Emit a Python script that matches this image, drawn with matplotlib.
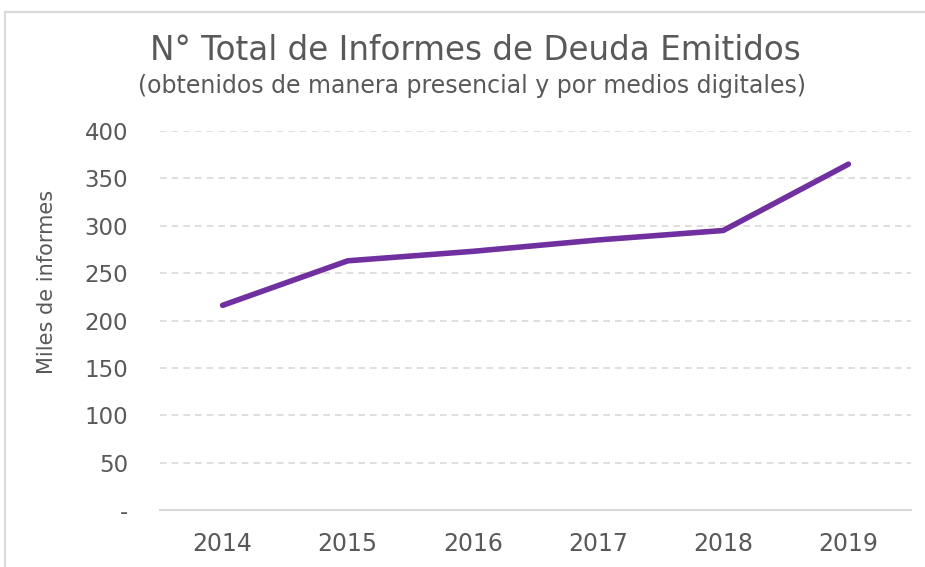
import numpy as np
import matplotlib.pyplot as plt
from matplotlib.lines import Line2D
from matplotlib.ticker import FuncFormatter

# datos (miles de informes)
anios = ["2014", "2015", "2016", "2017", "2018", "2019"]
informes = [216, 263, 273, 285, 295, 365]
yticks = [0, 50, 100, 150, 200, 250, 300, 350, 400]

gris = "#595959"
morado = "#7030A0"

W, H = 925, 567
fig = plt.figure(figsize=(W/100, H/100), dpi=100)
ax = fig.add_axes([160/W, 1-510/H, 751/W, 379/H])

x = np.arange(len(anios))
ax.plot(x, informes, color=morado, lw=4, solid_capstyle="round", zorder=3)

ax.set_xlim(-0.5, len(anios)-0.5)
ax.set_ylim(0, 400)
ax.set_yticks(yticks)
ax.yaxis.set_major_formatter(FuncFormatter(lambda v, p: "-" if v == 0 else "%d" % v))
ax.set_xticks(x)
ax.set_xticklabels(anios)

ax.grid(axis="y", color="#D9D9D9", ls=(0, (4, 3)), lw=1.2)
ax.set_axisbelow(True)
for s in ["top", "right", "left"]:
    ax.spines[s].set_visible(False)
ax.spines["bottom"].set_color("#D9D9D9")
ax.spines["bottom"].set_linewidth(1.5)
ax.tick_params(axis="both", length=0, colors=gris)
ax.tick_params(axis="y", pad=23, labelsize=16.5)
ax.tick_params(axis="x", pad=16, labelsize=17)
ax.set_ylabel("Miles de informes", fontsize=15, color=gris)
ax.yaxis.set_label_coords(-103/751, (510-282)/379)

fig.text(475/W, 1-50/H, "N° Total de Informes de Deuda Emitidos",
         ha="center", va="center", fontsize=23.5, color=gris)
fig.text(472/W, 1-86/H, "(obtenidos de manera presencial y por medios digitales)",
         ha="center", va="center", fontsize=17, color=gris)

# borde del grafico
fig.add_artist(Line2D([5/W, 1], [1-12/H, 1-12/H], color="#D9D9D9", lw=1.5))
fig.add_artist(Line2D([5/W, 5/W], [0, 1-12/H], color="#D9D9D9", lw=1.5))

fig.savefig("out.png", dpi=100)
